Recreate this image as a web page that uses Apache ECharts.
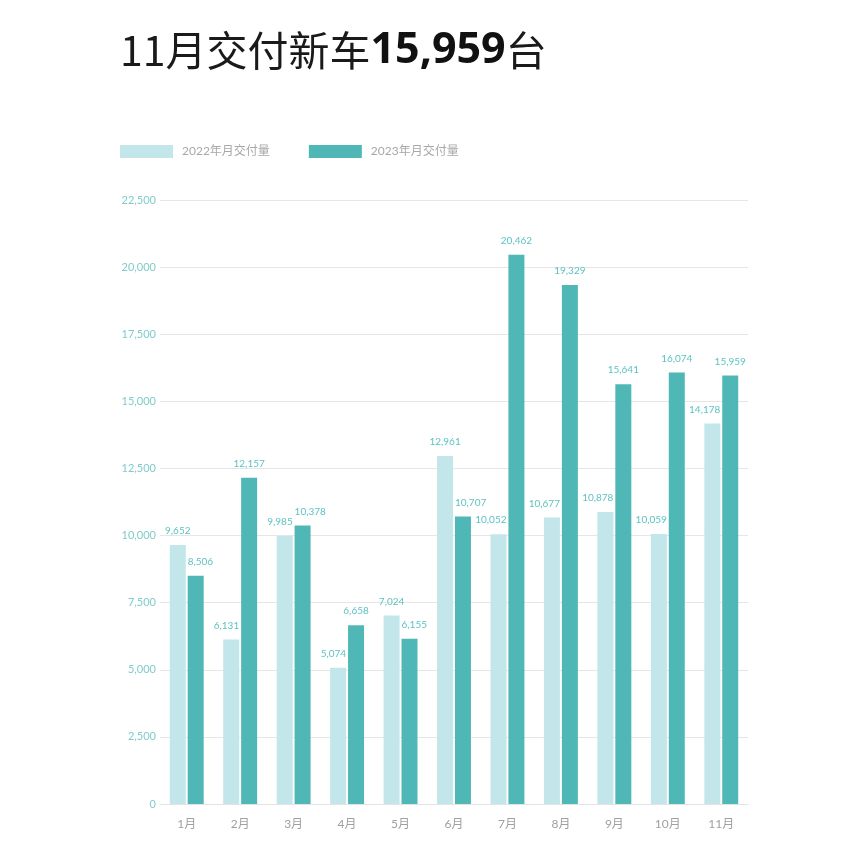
<!DOCTYPE html>
<html>
<head>
<meta charset="utf-8">
<script src="https://cdn.jsdelivr.net/npm/echarts@6/dist/echarts.min.js"></script>
<style>
  html, body { margin: 0; padding: 0; background: #fff; }
  #chart { width: 852px; height: 845px; }
</style>
</head>
<body>
<div id="chart"></div>
<script>
const months = ['1月', '2月', '3月', '4月', '5月', '6月', '7月', '8月', '9月', '10月', '11月'];
const sales2022 = [9652, 6131, 9985, 5074, 7024, 12961, 10052, 10677, 10878, 10059, 14178];
const sales2023 = [8506, 12157, 10378, 6658, 6155, 10707, 20462, 19329, 15641, 16074, 15959];
const yTicks = { min: 0, max: 22500, interval: 2500 };

// label placement above each bar (style only), as in the original artwork
const align2022 = ['center', 'right', 'right', 'right', 'center', 'center', 'right', 'right', 'right', 'right', 'right'];
const align2023 = ['left', 'center', 'left', 'center', 'left', 'left', 'center', 'center', 'center', 'center', 'center'];

const chart = echarts.init(document.getElementById('chart'));

const fmt = v => v.toLocaleString('en-US');

function withLabels(values, aligns) {
  return values.map((v, i) => {
    const a = aligns[i];
    let off = [0, 0];
    if (a === 'left') off = [-8, 0];
    if (a === 'right') off = [8, 0];
    return { value: v, label: { align: a, offset: off } };
  });
}

chart.setOption({
  animation: false,
  textStyle: { fontFamily: 'Lato, "Noto Sans CJK SC", sans-serif' },
  title: {
    left: 115,
    top: 24,
    text: '{n|11月交付新车}{b|15,959}{n|台}',
    textStyle: {
      rich: {
        n: { fontSize: 41, color: '#1a1a1a', fontFamily: '"Noto Sans CJK SC", sans-serif', fontWeight: 'normal' },
        b: { fontSize: 43, color: '#111', fontFamily: '"Open Sans", "Noto Sans", sans-serif', fontWeight: 'bold' }
      }
    }
  },
  legend: {
    left: 115,
    top: 140,
    itemWidth: 53,
    itemHeight: 13,
    itemGap: 39,
    icon: 'rect',
    textStyle: { color: '#a8a8a8', fontSize: 12, padding: [0, 0, 0, 4] },
    data: ['2022年月交付量', '2023年月交付量']
  },
  grid: {
    left: 160,
    right: 104,
    top: 200,
    bottom: 41,
    containLabel: false
  },
  xAxis: {
    type: 'category',
    data: months,
    axisTick: { show: false },
    axisLine: { lineStyle: { color: '#e3e3e3' } },
    axisLabel: { color: '#a0a0a0', fontSize: 12, margin: 14 }
  },
  yAxis: {
    type: 'value',
    min: yTicks.min,
    max: yTicks.max,
    interval: yTicks.interval,
    axisLine: { show: false },
    axisTick: { show: false },
    splitLine: { lineStyle: { color: '#e6e6e6' } },
    axisLabel: {
      color: '#7fcccc',
      fontSize: 11,
      margin: 4,
      formatter: v => fmt(v)
    }
  },
  series: [
    {
      name: '2022年月交付量',
      type: 'bar',
      data: withLabels(sales2022, align2022),
      barWidth: 16,
      barGap: '12%',
      itemStyle: { color: '#c3e6ea' },
      label: { show: true, position: 'top', distance: 9, color: '#5ec2c2', fontSize: 10, formatter: p => fmt(p.value) }
    },
    {
      name: '2023年月交付量',
      type: 'bar',
      data: withLabels(sales2023, align2023),
      barWidth: 16,
      itemStyle: { color: '#4fb8b6' },
      label: { show: true, position: 'top', distance: 9, color: '#5ec2c2', fontSize: 10, formatter: p => fmt(p.value) }
    }
  ]
});
</script>
</body>
</html>
